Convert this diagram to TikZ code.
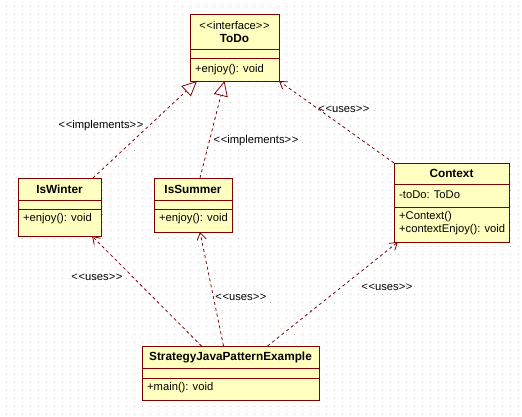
\documentclass[tikz,border=0pt]{standalone}
\usepackage{fontspec}
\setmainfont{Liberation Sans}
\usepackage{tikz}
\usetikzlibrary{arrows.meta, positioning, calc}
\definecolor{umlred}{HTML}{800000}
\definecolor{umlfill}{HTML}{FFFFC0}
\definecolor{griddot}{HTML}{C0C0C0}
\newcommand{\lguil}{\textless\hspace{0.6pt}\textless}
\newcommand{\rguil}{\textgreater\hspace{0.6pt}\textgreater}
\tikzset{
  classbox/.style={draw=umlred, fill=umlfill, line width=0.9pt, inner sep=0pt, outer sep=0pt},
  umlline/.style={umlred, line width=0.9pt},
  title/.style={font=\fontsize{11.8}{13}\selectfont\bfseries, inner sep=0pt},
  member/.style={font=\fontsize{11.2}{12}\selectfont, inner sep=0pt, anchor=west},
  stereo/.style={font=\fontsize{11.2}{12}\selectfont, inner sep=0pt},
  realize/.style={umlred, line width=0.8pt, dash pattern=on 3pt off 3pt, -{Triangle[open, length=15pt, width=14pt, line width=0.8pt]}},
  depend/.style={umlred, line width=0.8pt, dash pattern=on 3pt off 3pt, -{Straight Barb[length=7pt, width=9pt, line width=0.8pt]}}
}
\begin{document}
\begin{tikzpicture}[x=1pt, y=-1pt]
\useasboundingbox (0,0) rectangle (522,416);
\fill[white] (0,0) rectangle (522,416);
% background grid
\foreach \i in {0,...,64}
  \foreach \j in {0,...,51}
    \fill[griddot] (6+8*\i-0.5, 6+8*\j-0.5) rectangle ++(1,1);

% classes
\node[classbox, minimum width=89pt, minimum height=67pt] (todo) at (234.5,47.5) {};
\draw[umlline] (todo.west |- 0,49) -- (todo.east |- 0,49);
\draw[umlline] (todo.west |- 0,58) -- (todo.east |- 0,58);
\node[stereo] (todostereo) at (234.5,25) {\lguil interface\rguil};
\node[title] (todoname) at (234.5,38) {ToDo};
\node[member] (todoop) at (195,69.5) {+enjoy(): void};

\node[classbox, minimum width=83pt, minimum height=58pt] (iswinter) at (59.5,207) {};
\draw[umlline] (iswinter.west |- 0,200) -- (iswinter.east |- 0,200);
\draw[umlline] (iswinter.west |- 0,209) -- (iswinter.east |- 0,209);
\node[title] (iswintername) at (59.5,189) {IsWinter};
\node[member] (iswinterop) at (23,219) {+enjoy(): void};

\node[classbox, minimum width=78pt, minimum height=54pt] (issummer) at (193,205) {};
\draw[umlline] (issummer.west |- 0,200) -- (issummer.east |- 0,200);
\draw[umlline] (issummer.west |- 0,209) -- (issummer.east |- 0,209);
\node[title] (issummername) at (193,189) {IsSummer};
\node[member] (issummerop) at (159,219) {+enjoy(): void};

\node[classbox, minimum width=115pt, minimum height=79pt] (context) at (451.5,202.5) {};
\draw[umlline] (context.west |- 0,184) -- (context.east |- 0,184);
\draw[umlline] (context.west |- 0,207) -- (context.east |- 0,207);
\node[title] (contextname) at (451.5,173) {Context};
\node[member] (contextattr) at (399,195) {-toDo: ToDo};
\node[member] (contextop1) at (399,217) {+Context()};
\node[member] (contextop2) at (399,229.5) {+contextEnjoy(): void};

\node[classbox, minimum width=177pt, minimum height=54pt] (main) at (230.5,373) {};
\draw[umlline] (main.west |- 0,368) -- (main.east |- 0,368);
\draw[umlline] (main.west |- 0,378) -- (main.east |- 0,378);
\node[title] (mainname) at (230.5,357) {StrategyJavaPatternExample};
\node[member] (mainop) at (147,388) {+main(): void};

% relations
\draw[realize] ([xshift=-8pt]iswinter.north east) -- ([xshift=7pt]todo.south west);
\draw[realize] ([xshift=7pt]issummer.north) -- ([xshift=-10pt]todo.south);
\draw[depend] (context.north west) -- (todo.south east);
\draw[depend] ([xshift=-29pt]main.north) -- ([xshift=-9pt]iswinter.south east);
\draw[depend] ([xshift=-7pt]main.north) -- ([xshift=7pt]issummer.south);
\draw[depend] ([xshift=37pt]main.north) -- ([xshift=4pt]context.south west);

% labels
\node[stereo] (impl1) at (101,126) {\lguil implements\rguil};
\node[stereo] (impl2) at (256,141) {\lguil implements\rguil};
\node[stereo] (uses1) at (344,109) {\lguil uses\rguil};
\node[stereo] (uses2) at (97,277) {\lguil uses\rguil};
\node[stereo] (uses3) at (241,297) {\lguil uses\rguil};
\node[stereo] (uses4) at (387,287) {\lguil uses\rguil};
\end{tikzpicture}
\end{document}
